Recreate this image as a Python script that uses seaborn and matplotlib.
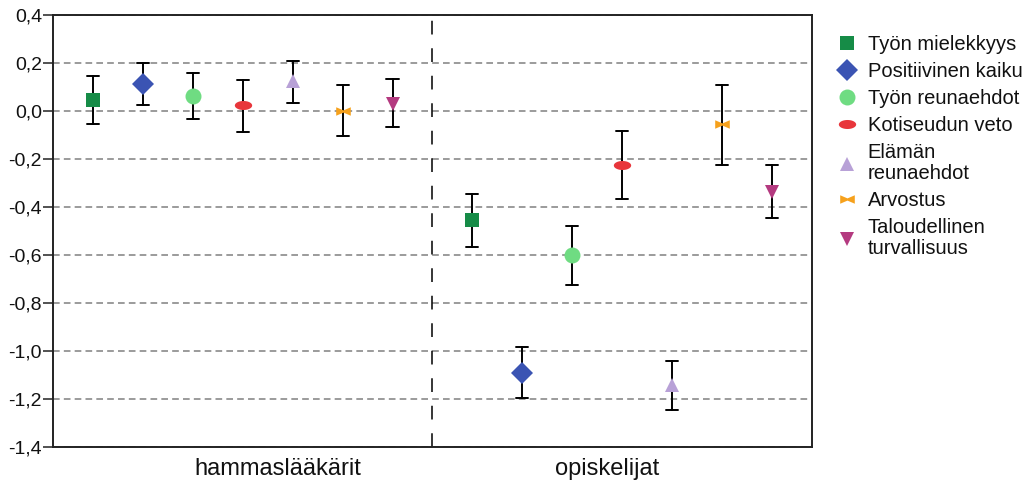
import numpy as np
import pandas as pd
import matplotlib
matplotlib.use("Agg")
import matplotlib.pyplot as plt
from matplotlib.path import Path
from matplotlib.ticker import FuncFormatter
import seaborn as sns

# --- Daten ---
ryhmat = ["hammaslääkärit", "opiskelijat"]
tekijat = ["Työn mielekkyys", "Positiivinen kaiku", "Työn reunaehdot",
           "Kotiseudun veto", "Elämän\nreunaehdot", "Arvostus",
           "Taloudellinen\nturvallisuus"]

ka_hamm = [0.046, 0.112, 0.062, 0.025, 0.125, 0.000, 0.030]
ala_hamm = [-0.053, 0.025, -0.033, -0.088, 0.033, -0.104, -0.067]
yla_hamm = [0.146, 0.200, 0.158, 0.130, 0.208, 0.108, 0.133]

ka_opis = [-0.454, -1.090, -0.601, -0.225, -1.142, -0.055, -0.336]
ala_opis = [-0.565, -1.197, -0.723, -0.367, -1.246, -0.225, -0.444]
yla_opis = [-0.346, -0.985, -0.479, -0.083, -1.040, 0.108, -0.226]

varit = ["#168c47", "#3b54b3", "#6fdc82", "#e8363b", "#b8a1d7", "#f6a11c", "#b43a80"]

# eigene Marker: Ellipse und "Schleife"
t = np.linspace(0, 2 * np.pi, 41)
ellipsi = Path(np.column_stack([np.cos(t), 0.52 * np.sin(t)]))
rusetti = Path([(-1, 0.58), (0, 0.15), (1, 0.58), (1, -0.58), (0, -0.15), (-1, -0.58), (-1, 0.58)],
               closed=True)
merkit = ["s", "D", "o", ellipsi, "^", rusetti, "v"]
koot = [9.8, 11.0, 11.5, 12.5, 10.0, 10.5, 10.0]

# lange Tabelle: unteres Ende, Mittelwert, oberes Ende -> median + min/max
rivit = []
for ryhma, ka, ala, yla in [(ryhmat[0], ka_hamm, ala_hamm, yla_hamm),
                            (ryhmat[1], ka_opis, ala_opis, yla_opis)]:
    for i, tekija in enumerate(tekijat):
        for arvo in (ala[i], ka[i], yla[i]):
            rivit.append({"ryhma": ryhma, "tekija": tekija, "arvo": arvo})
df = pd.DataFrame(rivit)

sns.set_theme(style="white")
plt.rcParams["font.family"] = ["Liberation Sans", "DejaVu Sans"]
plt.rcParams["text.color"] = "#111111"
plt.rcParams["xtick.color"] = "#111111"
plt.rcParams["ytick.color"] = "#111111"

fig = plt.figure(figsize=(10.34, 4.82), dpi=100)
ax = fig.add_axes([0.0513, 0.0726, 0.7337, 0.8963])

sns.pointplot(data=df, x="ryhma", y="arvo", hue="tekija", order=ryhmat, hue_order=tekijat,
              estimator="median", errorbar=("pi", 100), dodge=0.79, capsize=0.032,
              palette=varit, markers=merkit, linestyle="none",
              err_kws={"color": "black", "linewidth": 1.4}, legend=False, ax=ax)

# Marker nachjustieren
pisteet = [l for l in ax.lines if l.get_linestyle() == "None"]
for l, koko, vari in zip(pisteet, koot, varit):
    l.set_markersize(koko)
    l.set_markeredgewidth(0)
    l.set_markerfacecolor(vari)
    l.set_zorder(5)

ax.set_ylim(-1.4, 0.4)
ax.set_xlim(-0.5, 1.5)
ax.set_yticks(np.arange(-1.4, 0.41, 0.2))
ax.yaxis.set_major_formatter(FuncFormatter(lambda v, p: f"{v:.1f}".replace(".", ",").replace("-0,0", "0,0")))
ax.yaxis.grid(True, linestyle=(0, (4, 2.5)), color="#8a8a8a", linewidth=1.2)
ax.set_axisbelow(True)
ax.axvline(0.5, color="black", linestyle=(0, (9, 9)), linewidth=1.1)

ax.set_xticks([0.093, 0.962], ryhmat)
ax.tick_params(axis="x", length=0, labelsize=17, pad=8)
ax.tick_params(axis="y", left=True, length=7, width=1.2, labelsize=14, pad=1, color="#333333")
ax.set_xlabel("")
ax.set_ylabel("")
for s in ax.spines.values():
    s.set_color("#222222")
    s.set_linewidth(1.4)

leg = ax.legend(pisteet, tekijat, loc="upper left", bbox_to_anchor=(0.804, 0.944),
                bbox_transform=fig.transFigure, frameon=False, fontsize=14.5,
                handlelength=0.8, handletextpad=0.6, labelspacing=0.4, borderaxespad=0)
for tx in leg.get_texts():
    tx.set_linespacing(1.12)

fig.savefig("out.png", dpi=100)
